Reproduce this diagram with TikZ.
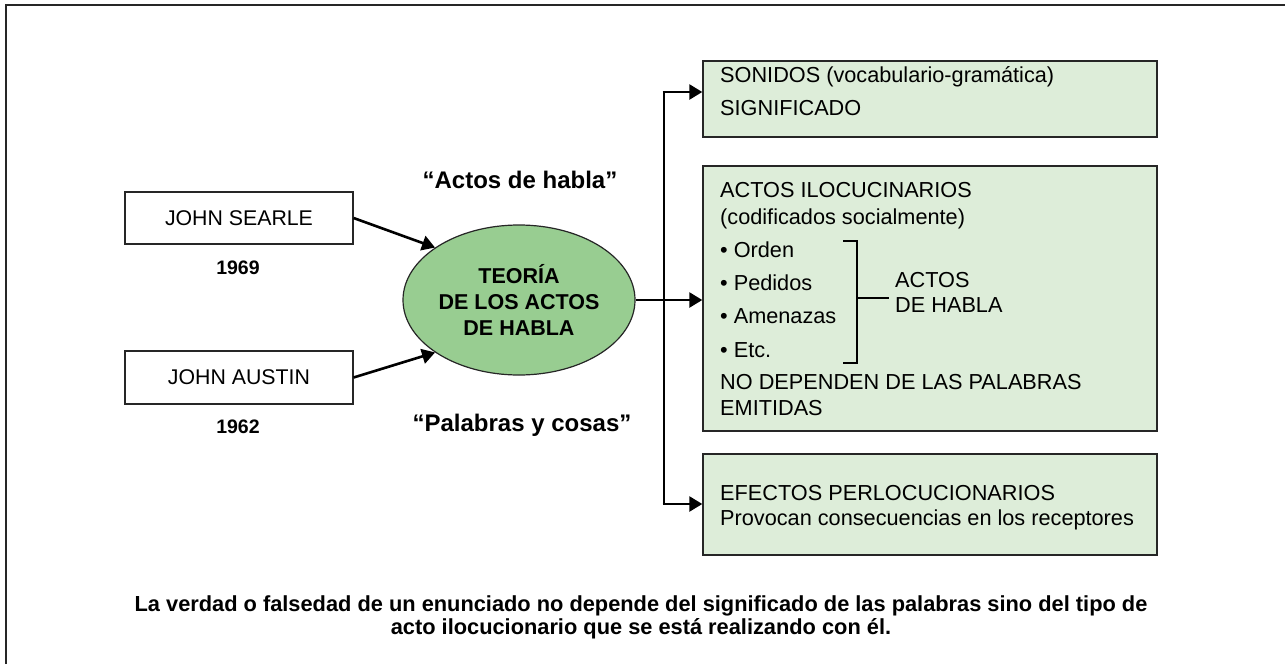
\documentclass[tikz,border=0pt]{standalone}
\usepackage{fontspec}
\setmainfont{Liberation Sans}
\usetikzlibrary{arrows.meta,shapes.geometric}
\definecolor{boxgreen}{RGB}{221,237,217}
\definecolor{ellgreen}{RGB}{152,205,145}
\tikzset{
  gbox/.style={draw=black!85,line width=1.4pt,fill=boxgreen,inner sep=0pt},
  wbox/.style={draw=black!85,line width=1.2pt,fill=white,inner sep=0pt,font=\fontsize{21.3}{25}\selectfont},
  conn/.style={line width=2.6pt},
  arr/.style={line width=2.6pt,-{Triangle[length=13pt,width=15pt]}},
  txt/.style={anchor=base west,inner sep=0pt,font=\fontsize{21.7}{25}\selectfont},
  yr/.style={inner sep=0pt,font=\bfseries\fontsize{19.5}{22}\selectfont},
  qt/.style={inner sep=0pt,font=\bfseries\fontsize{24}{27}\selectfont},
}
\begin{document}
\begin{tikzpicture}[x=1pt,y=-1pt]
\useasboundingbox (0,0) rectangle (1285,664);
\draw[line width=2pt,black!85] (6,664) -- (6,5) -- (1285,5);
% left boxes
\node[wbox,minimum width=228pt,minimum height=52pt] (searle) at (239,218) {JOHN SEARLE};
\node[wbox,minimum width=228pt,minimum height=53pt] (austin) at (239,377.5) {JOHN AUSTIN};
\node[yr] (y1) at (238,268) {1969};
\node[yr] (y2) at (238,427) {1962};
% ellipse
\node[ellipse,draw=black!85,line width=1.2pt,fill=ellgreen,minimum width=232pt,minimum height=150pt,inner sep=0pt,align=center,font=\bfseries\fontsize{21.5}{26}\selectfont] (ell) at (519,300) {TEORÍA\\DE LOS ACTOS\\DE HABLA};
\node[qt] (q1) at (520,180) {“Actos de habla”};
\node[qt] (q2) at (522,425) {“Palabras y cosas”};
\draw[arr] (searle.east) -- (ell.148);
\draw[arr] (austin.east) -- (ell.212);
% right boxes
\node[gbox,minimum width=454pt,minimum height=76pt] (b1) at (930,99) {};
\node[gbox,minimum width=454pt,minimum height=265pt] (b2) at (930,298.5) {};
\node[gbox,minimum width=454pt,minimum height=101pt] (b3) at (930,504.5) {};
% connectors
\coordinate (j1) at (664,92);
\coordinate (j3) at (664,504);
\draw[conn] (j1) -- (j3);
\draw[arr] ([xshift=-1.3pt]j1) -- (j1 -| b1.west);
\draw[arr] ([xshift=-1.3pt]j3) -- (j3 -| b3.west);
\draw[arr] (ell.east) -- (ell.east -| b2.west);
% box 1 text
\node[txt] (t11) at (720,82.5) {SONIDOS (vocabulario-gramática)};
\node[txt] (t12) at (720,115.5) {SIGNIFICADO};
% box 2 text
\node[txt] (t21) at (720,197.5) {ACTOS ILOCUCINARIOS};
\node[txt] (t22) at (720,224.5) {(codificados socialmente)};
\node[txt] (t23) at (720,257.5) {• Orden};
\node[txt] (t24) at (720,290.5) {• Pedidos};
\node[txt] (t25) at (720,323.5) {• Amenazas};
\node[txt] (t26) at (720,357.5) {• Etc.};
\node[txt] (t27) at (720,389.5) {NO DEPENDEN DE LAS PALABRAS};
\node[txt] (t28) at (720,415.5) {EMITIDAS};
\node[txt] (t29) at (895,287.5) {ACTOS};
\node[txt] (t30) at (895,312.5) {DE HABLA};
\coordinate (br1) at (843,241);
\coordinate (br2) at (857,241);
\coordinate (br3) at (857,363);
\coordinate (br4) at (843,363);
\coordinate (brm) at (857,298);
\draw[line width=1.3pt] (br1) -- (br2) -- (br3) -- (br4);
\draw[line width=1.3pt] (brm) -- ([xshift=-6pt]t29.west |- brm);
% box 3 text
\node[txt] (t31) at (720,500.5) {EFECTOS PERLOCUCIONARIOS};
\node[txt] (t32) at (720,525.5) {Provocan consecuencias en los receptores};
% bottom text
\node[align=center,inner sep=0pt,font=\bfseries\fontsize{21.8}{23}\selectfont] (bot) at (641,617) {La verdad o falsedad de un enunciado no depende del significado de las palabras sino del tipo de\\acto ilocucionario que se está realizando con él.};
\end{tikzpicture}
\end{document}
